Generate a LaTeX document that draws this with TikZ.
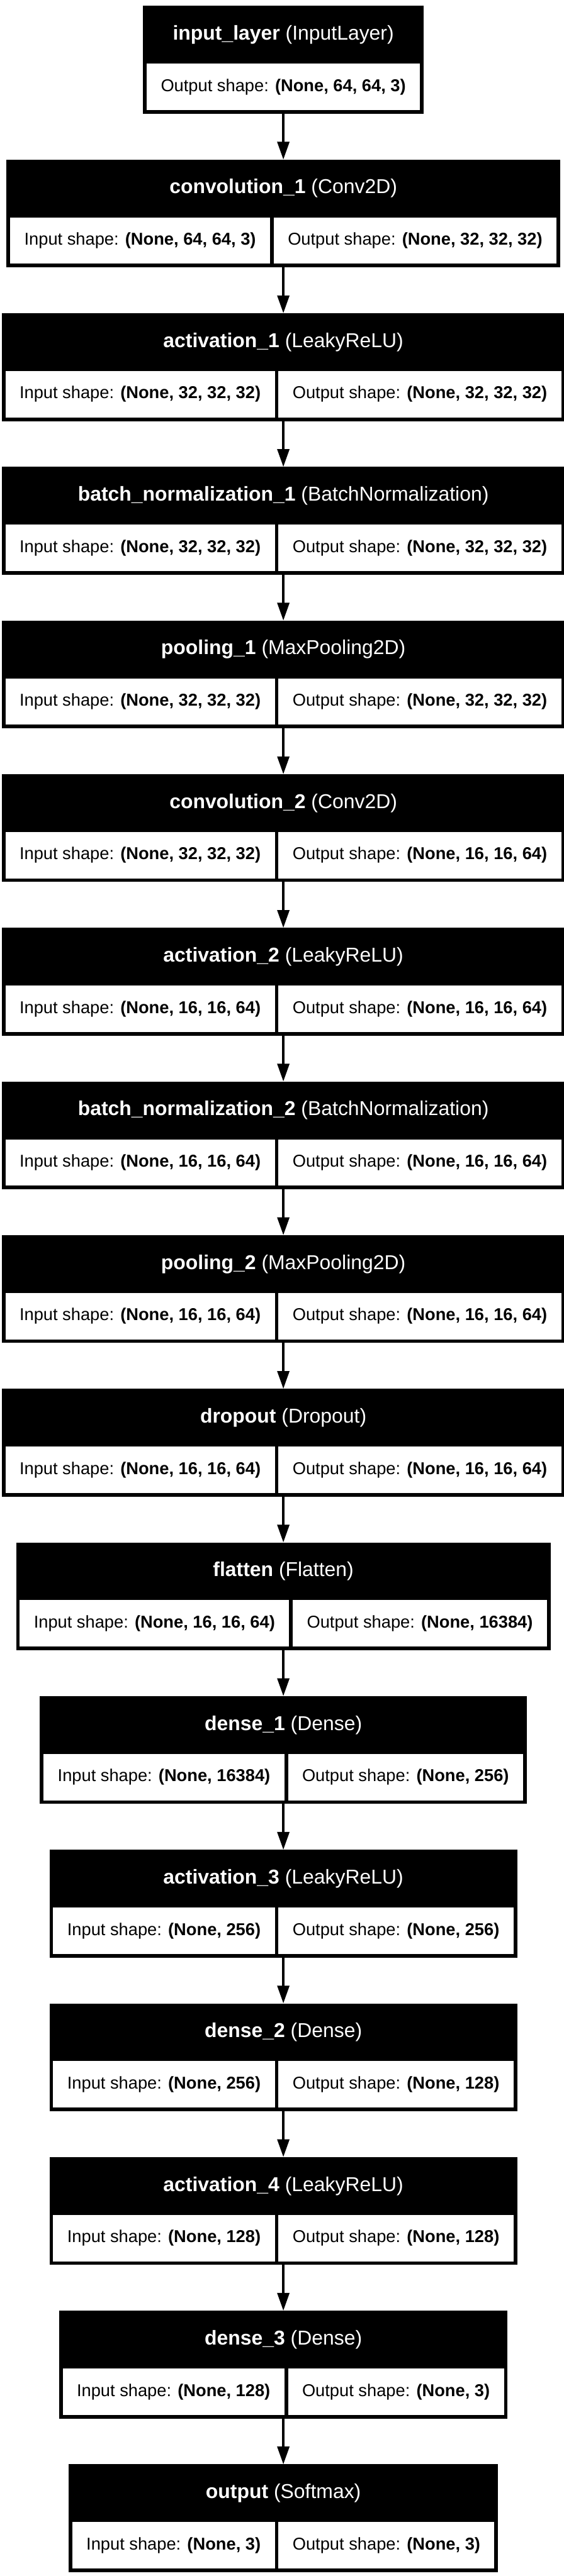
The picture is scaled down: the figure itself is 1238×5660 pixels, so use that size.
\documentclass[tikz,border=0pt]{standalone}
\usepackage{fontspec}
\setmainfont{Liberation Sans}
\usetikzlibrary{arrows.meta,fit,backgrounds,calc}
\pgfdeclarelayer{paper}
\pgfsetlayers{paper,background,main}
\tikzset{
  cellbox/.style={fill=white, text=black, minimum height=102pt, inner xsep=31pt, inner ysep=0pt, outer sep=0pt, font=\fontsize{37.7}{44}\selectfont, anchor=center},
  layerbox/.style={fill=black, inner sep=0pt, outer sep=0pt},
  titletext/.style={text=white, font=\fontsize{44.1}{52}\selectfont, inner sep=0pt},
  cellrow/.style={matrix anchor=north, column sep=8pt, inner sep=8pt, outer sep=0pt, ampersand replacement=\&},
  conn/.style={line width=5.3pt, -{Triangle[length=39pt,width=26pt]}},
}
% #1 node name, #2 top y, #3 layer name, #4 layer type, #5 input shape, #6 output shape
\newcommand\kerasLayer[6]{%
  \matrix (#1m) [cellrow] at (622,#2-119) {
    \node[cellbox] (#1in) {Input shape: \textbf{#5}}; \& \node[cellbox] (#1out) {Output shape: \textbf{#6}}; \\
  };
  \coordinate (#1t) at (622,#2);
  \begin{scope}[on background layer]
    \node[layerbox, fit=(#1m)(#1t)] (#1) {};
  \end{scope}
  \node[titletext] (#1title) at ($(#1m.north)+(0,55.5)$) {\textbf{#3} (#4)};
}
\begin{document}
\begin{tikzpicture}[x=1pt,y=1pt]
\begin{pgfonlayer}{paper}
\fill[white] (0,0) rectangle (1238,-5660);
\end{pgfonlayer}
\useasboundingbox (0,0) rectangle (1238,-5660);
% input layer
\matrix (L1m) [cellrow] at (622,-13-119) {
  \node[cellbox] (L1out) {Output shape: \textbf{(None, 64, 64, 3)}}; \\
};
\coordinate (L1t) at (622,-13);
\begin{scope}[on background layer]
  \node[layerbox, fit=(L1m)(L1t)] (L1) {};
\end{scope}
\node[titletext] (L1title) at ($(L1m.north)+(0,55.5)$) {\textbf{input\_layer} (InputLayer)};

\kerasLayer{L2}{-13-337.6*1}{convolution\_1}{Conv2D}{(None, 64, 64, 3)}{(None, 32, 32, 32)}
\kerasLayer{L3}{-13-337.6*2}{activation\_1}{LeakyReLU}{(None, 32, 32, 32)}{(None, 32, 32, 32)}
\kerasLayer{L4}{-13-337.6*3}{batch\_normalization\_1}{BatchNormalization}{(None, 32, 32, 32)}{(None, 32, 32, 32)}
\kerasLayer{L5}{-13-337.6*4}{pooling\_1}{MaxPooling2D}{(None, 32, 32, 32)}{(None, 32, 32, 32)}
\kerasLayer{L6}{-13-337.6*5}{convolution\_2}{Conv2D}{(None, 32, 32, 32)}{(None, 16, 16, 64)}
\kerasLayer{L7}{-13-337.6*6}{activation\_2}{LeakyReLU}{(None, 16, 16, 64)}{(None, 16, 16, 64)}
\kerasLayer{L8}{-13-337.6*7}{batch\_normalization\_2}{BatchNormalization}{(None, 16, 16, 64)}{(None, 16, 16, 64)}
\kerasLayer{L9}{-13-337.6*8}{pooling\_2}{MaxPooling2D}{(None, 16, 16, 64)}{(None, 16, 16, 64)}
\kerasLayer{L10}{-13-337.6*9}{dropout}{Dropout}{(None, 16, 16, 64)}{(None, 16, 16, 64)}
\kerasLayer{L11}{-13-337.6*10}{flatten}{Flatten}{(None, 16, 16, 64)}{(None, 16384)}
\kerasLayer{L12}{-13-337.6*11}{dense\_1}{Dense}{(None, 16384)}{(None, 256)}
\kerasLayer{L13}{-13-337.6*12}{activation\_3}{LeakyReLU}{(None, 256)}{(None, 256)}
\kerasLayer{L14}{-13-337.6*13}{dense\_2}{Dense}{(None, 256)}{(None, 128)}
\kerasLayer{L15}{-13-337.6*14}{activation\_4}{LeakyReLU}{(None, 128)}{(None, 128)}
\kerasLayer{L16}{-13-337.6*15}{dense\_3}{Dense}{(None, 128)}{(None, 3)}
\kerasLayer{L17}{-13-337.6*16}{output}{Softmax}{(None, 3)}{(None, 3)}

\foreach \a/\b in {L1/L2,L2/L3,L3/L4,L4/L5,L5/L6,L6/L7,L7/L8,L8/L9,L9/L10,L10/L11,L11/L12,L12/L13,L13/L14,L14/L15,L15/L16,L16/L17}
  \draw[conn] (\a.south) -- (\b.north);
\end{tikzpicture}
\end{document}
